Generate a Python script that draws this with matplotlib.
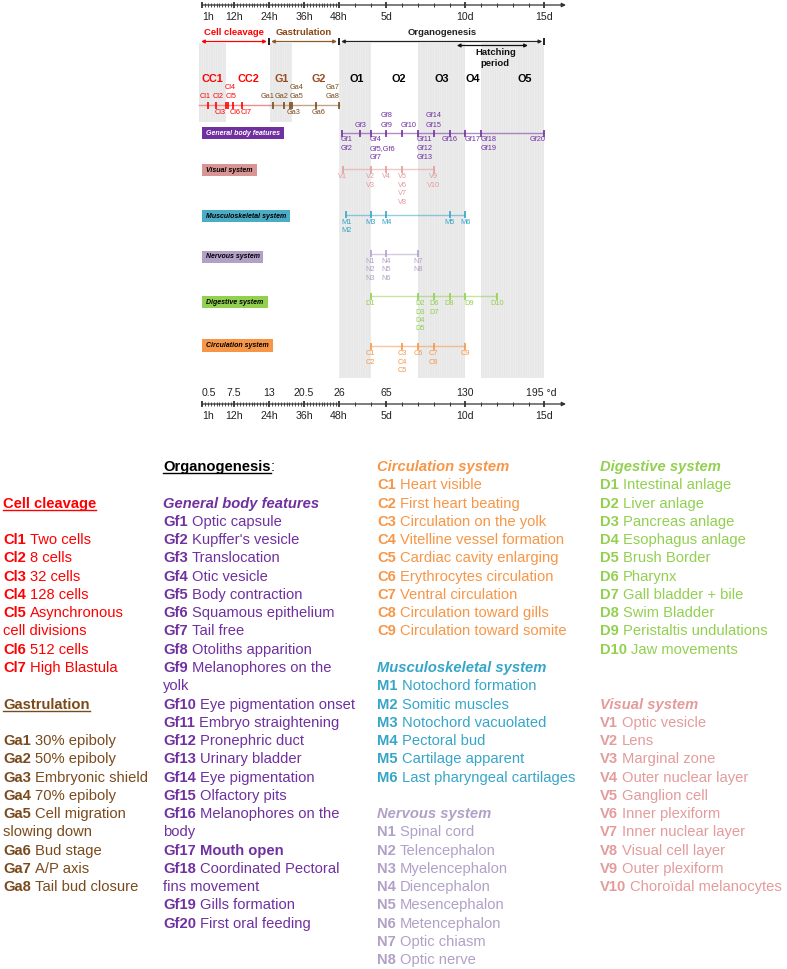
import numpy as np
import matplotlib
matplotlib.use('Agg')
import matplotlib.pyplot as plt
from matplotlib.patches import Rectangle

plt.rcParams['font.family'] = ['Liberation Sans', 'DejaVu Sans']
plt.rcParams['hatch.linewidth'] = 0.5

W, H = 787, 969

# ---------------- data ----------------
axis_hours = [1, 12, 24, 36, 48, 120, 240, 360]
axis_time_labels = ['1h', '12h', '24h', '36h', '48h', '5d', '10d', '15d']
axis_degree_labels = ['0.5', '7.5', '13', '20.5', '26', '65', '130', '195 °d']
hour_ticks = list(range(1, 49))
major_hours = [1, 12, 24, 36, 48]
day_ticks = list(range(3, 16))
major_days = [5, 10, 15]

period_names = ['Cell cleavage', 'Gastrulation', 'Organogenesis']
period_start_h = [0, 24, 48]
period_end_h = [24, 48, 360]
hatching_start_h, hatching_end_h = 227, 335

phase_names = ['CC1', 'CC2', 'G1', 'G2', 'O1', 'O2', 'O3', 'O4', 'O5']
phase_start_h = [0, 9.3, 24.5, 32, 48, 96, 168, 240, 264]
phase_end_h = [9.3, 24.5, 32, 48, 96, 168, 240, 264, 360]
phase_shaded = [1, 0, 1, 0, 1, 0, 1, 0, 1]

cl_codes = ['Cl1', 'Cl2', 'Cl3', 'Cl4', 'Cl5', 'Cl6', 'Cl7']
cl_hours = [3.2, 5.7, 9.3, 9.8, 9.8, 11.6, 14.8]
cl_desc = ['Two cells', '8 cells', '32 cells', '128 cells',
           'Asynchronous\ncell divisions', '512 cells', 'High Blastula']

ga_codes = ['Ga1', 'Ga2', 'Ga3', 'Ga4', 'Ga5', 'Ga6', 'Ga7', 'Ga8']
ga_hours = [25.3, 29.2, 31.2, 31.8, 31.8, 40, 48, 48]
ga_desc = ['30% epiboly', '50% epiboly', 'Embryonic shield', '70% epiboly',
           'Cell migration\nslowing down', 'Bud stage', 'A/P axis', 'Tail bud closure']

gf_codes = ['Gf1', 'Gf2', 'Gf3', 'Gf4', 'Gf5', 'Gf6', 'Gf7', 'Gf8', 'Gf9', 'Gf10',
            'Gf11', 'Gf12', 'Gf13', 'Gf14', 'Gf15', 'Gf16', 'Gf17', 'Gf18', 'Gf19', 'Gf20']
gf_days = [2.2, 2.2, 3.35, 4, 4, 4, 4, 5, 5, 6, 7, 7, 7, 8, 8, 9, 10, 11, 11, 15]
gf_desc = ['Optic capsule', "Kupffer's vesicle", 'Translocation', 'Otic vesicle',
           'Body contraction', 'Squamous epithelium', 'Tail free', 'Otoliths apparition',
           'Melanophores on the\nyolk', 'Eye pigmentation onset', 'Embryo straightening',
           'Pronephric duct', 'Urinary bladder', 'Eye pigmentation', 'Olfactory pits',
           'Melanophores on the\nbody', 'Mouth open', 'Coordinated Pectoral\nfins movement',
           'Gills formation', 'First oral feeding']

v_codes = ['V1', 'V2', 'V3', 'V4', 'V5', 'V6', 'V7', 'V8', 'V9', 'V10']
v_days = [2.25, 4, 4, 5, 6, 6, 6, 6, 8, 8]
v_desc = ['Optic vesicle', 'Lens', 'Marginal zone', 'Outer nuclear layer', 'Ganglion cell',
          'Inner plexiform', 'Inner nuclear layer', 'Visual cell layer', 'Outer plexiform',
          'Choroïdal melanocytes']

m_codes = ['M1', 'M2', 'M3', 'M4', 'M5', 'M6']
m_days = [2.45, 2.45, 4, 5, 9, 10]
m_desc = ['Notochord formation', 'Somitic muscles', 'Notochord vacuolated', 'Pectoral bud',
          'Cartilage apparent', 'Last pharyngeal cartilages']

n_codes = ['N1', 'N2', 'N3', 'N4', 'N5', 'N6', 'N7', 'N8']
n_days = [4, 4, 4, 5, 5, 5, 7, 7]
n_desc = ['Spinal cord', 'Telencephalon', 'Myelencephalon', 'Diencephalon', 'Mesencephalon',
          'Metencephalon', 'Optic chiasm', 'Optic nerve']

d_codes = ['D1', 'D2', 'D3', 'D4', 'D5', 'D6', 'D7', 'D8', 'D9', 'D10']
d_days = [4, 7, 7, 7, 7, 8, 8, 9, 10, 12]
d_desc = ['Intestinal anlage', 'Liver anlage', 'Pancreas anlage', 'Esophagus anlage',
          'Brush Border', 'Pharynx', 'Gall bladder + bile', 'Swim Bladder',
          'Peristaltis undulations', 'Jaw movements']

c_codes = ['C1', 'C2', 'C3', 'C4', 'C5', 'C6', 'C7', 'C8', 'C9']
c_days = [4, 4, 6, 6, 6, 7, 8, 8, 10]
c_desc = ['Heart visible', 'First heart beating', 'Circulation on the yolk',
          'Vitelline vessel formation', 'Cardiac cavity enlarging', 'Erythrocytes circulation',
          'Ventral circulation', 'Circulation toward gills', 'Circulation toward somite']

# ---------------- colours ----------------
RED = '#ff0000'
BROWN = '#7a4a1c'
GBROWN = '#984a1e'
PURPLE = '#7030a0'
ORANGE = '#f79646'
TEAL = '#36a6c8'
LAV = '#b1a0c7'
GREEN = '#92d050'
VIS = '#e49b9b'


# ---------------- time scale (hours -> horizontal position) ----------------
def fwd(t):
    t = np.asarray(t, dtype=float)
    return np.where(t <= 48, 199 + 2.917 * t, 339 + 0.6583 * (t - 48))


def inv(x):
    x = np.asarray(x, dtype=float)
    return np.where(x <= 339, (x - 199) / 2.917, 48 + (x - 339) / 0.6583)


fig = plt.figure(figsize=(W / 100, H / 100), dpi=100)
ax = fig.add_axes([0, 0, 1, 1])
ax.set_xscale('function', functions=(fwd, inv))
ax.axis('off')
ax2 = fig.add_axes([0, 0, 1, 1])
ax2.axis('off')
ax2.patch.set_visible(False)

PX = 0.72  # points per pixel

# ---------------- shaded phase bands ----------------
for s, e, sh in zip(phase_start_h, phase_end_h, phase_shaded):
    if sh:
        y1 = 122 if s < 48 else 378
        ax.add_patch(Rectangle((s, 43), e - s, y1 - 43, facecolor='#e7e7e7',
                               edgecolor='#efefef', hatch='|||||||', lw=0, zorder=0))

# phase labels
phase_dx = {'G2': 3, 'O1': 2, 'O2': 4, 'O5': 12}
for name, s, e in zip(phase_names, phase_start_h, phase_end_h):
    mid = float(inv((fwd(s) + fwd(e)) / 2))
    col = RED if name.startswith('CC') else (GBROWN if name.startswith('G') else 'black')
    ax.annotate(name, (mid, 79), xytext=(phase_dx.get(name, 0) * PX, 0), textcoords='offset points',
                ha='center', va='center', fontsize=7.8, fontweight='bold', color=col, zorder=5)


# ---------------- time axes ----------------
def time_axis(y, lab_y, labels):
    ax.annotate('', xy=(566 / W, y), xycoords=('axes fraction', 'data'),
                xytext=(1, y), textcoords='data',
                arrowprops=dict(arrowstyle='-|>', lw=0.9, color='#333333',
                                mutation_scale=6, shrinkA=0, shrinkB=0), zorder=3)
    minor_h = [h for h in hour_ticks if h not in major_hours]
    ax.vlines(minor_h, y - 1.8, y + 1.8, color='#333333', lw=0.6, zorder=3)
    ax.vlines(major_hours, y - 3, y + 3, color='#333333', lw=1.3, zorder=3)
    minor_d = [d * 24 for d in day_ticks if d not in major_days]
    ax.vlines(minor_d, y - 2.2, y + 2.2, color='#333333', lw=0.7, zorder=3)
    ax.vlines([d * 24 for d in major_days], y - 3, y + 3, color='#333333', lw=1.3, zorder=3)
    axis_labels(lab_y, labels)


def axis_labels(lab_y, labels):
    for h, lab in zip(axis_hours, labels):
        if h == 1:
            ax.text(h, lab_y, lab, ha='left', va='center', fontsize=7.6, color='#222222')
        elif lab.startswith('195'):
            ax.annotate(lab, (h, lab_y), xytext=(-18 * PX, 0), textcoords='offset points',
                        ha='left', va='center', fontsize=7.6, color='#222222')
        else:
            ax.text(h, lab_y, lab, ha='center', va='center', fontsize=7.6, color='#222222')


time_axis(5, 17, axis_time_labels)
time_axis(404, 416, axis_time_labels)
axis_labels(392.5, axis_degree_labels)

# ---------------- period arrows ----------------
period_cols = [RED, '#8b5a2b', '#222222']
period_text_cols = [RED, '#8b4513', '#222222']
for name, s, e, c, tc in zip(period_names, period_start_h, period_end_h, period_cols,
                             period_text_cols):
    ax.annotate('', xy=(e, 41.5), xytext=(s, 41.5),
                arrowprops=dict(arrowstyle='<|-|>', lw=0.9, color=c, mutation_scale=5,
                                shrinkA=1.5, shrinkB=1.5), zorder=4)
    mid = float(inv((fwd(s) + fwd(e)) / 2))
    ax.text(mid, 32, name, ha='center', va='center', fontsize=6.8, fontweight='bold',
            color=tc, zorder=5)
ax.vlines([24, 48, 360], 38, 45, color='#111111', lw=1.3, zorder=5)
ax.annotate('', xy=(hatching_end_h, 45.5), xytext=(hatching_start_h, 45.5),
            arrowprops=dict(arrowstyle='<|-|>', lw=0.9, color='#111111', mutation_scale=5,
                            shrinkA=0, shrinkB=0), zorder=4)
hmid = float(inv((fwd(hatching_start_h) + fwd(hatching_end_h)) / 2))
ax.annotate('Hatching\nperiod', (hmid, 58), xytext=(3 * PX, 0), textcoords='offset points',
            ha='center', va='center', fontsize=6.8, fontweight='bold', linespacing=1.25,
            color='#111111', zorder=5)


# ---------------- event rows ----------------
def draw_events(codes, hours, y, color, above=(), ha_map=None, dx_map=None, merge=(),
                first=7.8, step=8.5, fs=5.3):
    ha_map = ha_map or {}
    dx_map = dx_map or {}
    hours = np.asarray(hours, float)
    ax.vlines(sorted(set(hours)), y - 3.5, y + 3.5, color=color, lw=1.2, zorder=4)
    groups = {}
    for c, t in zip(codes, hours):
        groups.setdefault(float(t), []).append(c)
    for t, cs in groups.items():
        up = [c for c in cs if c in above]
        dn = [c for c in cs if c not in above]
        if merge and all(m in dn for m in merge):
            i0 = dn.index(merge[0])
            dn = dn[:i0] + [','.join(merge)] + [c for c in dn[i0:] if c not in merge]
        key = cs[0]
        ha = ha_map.get(key, 'center')
        dx = dx_map.get(key, 0) * PX
        for i, c in enumerate(dn):
            ax.annotate(c, (t, y + first + step * i), xytext=(dx, 0), textcoords='offset points',
                        ha=ha, va='center', fontsize=fs, color=color, zorder=5)
        for i, c in enumerate(reversed(up)):
            ax.annotate(c, (t, y - first - 1 - step * 1.05 * i), xytext=(dx, 0),
                        textcoords='offset points',
                        ha=ha, va='center', fontsize=fs, color=color, zorder=5)


def row_line(hours, y, color):
    ax.plot([min(hours), max(hours)], [y, y], color=color, lw=1.0, alpha=0.55,
            solid_capstyle='butt', zorder=3)


# cleavage / gastrulation row
CY = 105
ax.plot([0, 24], [CY, CY], color='#f28c8c', lw=1.0, zorder=3)
ax.plot([24, 48], [CY, CY], color='#c2a488', lw=1.0, zorder=3)
draw_events(cl_codes, cl_hours, CY, RED, above=('Cl1', 'Cl2', 'Cl4', 'Cl5'),
            dx_map={'Cl1': -3, 'Cl2': 2, 'Cl3': -6, 'Cl4': 3, 'Cl6': 2.5, 'Cl7': 4.4},
            first=7.3, step=9.0)
draw_events(ga_codes, ga_hours, CY, BROWN, above=('Ga1', 'Ga2', 'Ga4', 'Ga5', 'Ga7', 'Ga8'),
            dx_map={'Ga1': -5, 'Ga2': -2.6, 'Ga3': 4, 'Ga4': 5, 'Ga6': 3.3, 'Ga7': -6},
            first=7.3, step=9.0)

# organogenesis rows
rows = [
    (gf_codes, gf_days, 133, PURPLE),
    (v_codes, v_days, 169, VIS),
    (m_codes, m_days, 214.5, TEAL),
    (n_codes, n_days, 253.5, LAV),
    (d_codes, d_days, 296, GREEN),
    (c_codes, c_days, 346, ORANGE),
]
for codes, days, y, col in rows:
    hrs = [d * 24 for d in days]
    row_line(hrs, y, col)
    if codes is gf_codes:
        draw_events(codes, hrs, y, col, above=('Gf3', 'Gf8', 'Gf9', 'Gf10', 'Gf14', 'Gf15'),
                    ha_map={'Gf1': 'left', 'Gf4': 'left', 'Gf10': 'left', 'Gf11': 'left',
                            'Gf17': 'left', 'Gf18': 'left', 'Gf20': 'right'},
                    dx_map={'Gf1': -2, 'Gf4': -1, 'Gf10': -1.5, 'Gf11': -1, 'Gf17': -1,
                            'Gf18': -1, 'Gf20': 1},
                    merge=('Gf5', 'Gf6'), first=6.8, step=8.8)
    else:
        draw_events(codes, hrs, y, col, ha_map={'D9': 'left'}, dx_map={'D9': -1, 'D2': 2},
                    first=7.8, step=8.4)

# row name boxes (pixel layout)
boxes = [
    ('General body features', 133, 82, PURPLE, 'white'),
    ('Visual system', 170, 55, '#d99594', 'black'),
    ('Musculoskeletal system', 216, 88, '#4bacc6', 'black'),
    ('Nervous system', 257, 61, '#b2a1c7', 'black'),
    ('Digestive system', 302, 66, GREEN, 'black'),
    ('Circulation system', 345.5, 71, ORANGE, 'black'),
]
for name, yc, w, fc, tc in boxes:
    ax2.add_patch(Rectangle((202, yc - 6.3), w, 12.6, facecolor=fc, edgecolor='none', zorder=4))
    ax2.text(202 + w / 2, yc, name, ha='center', va='center', fontsize=5.0,
             fontweight='bold', fontstyle='italic', color=tc, zorder=5)

# ---------------- legend text ----------------
FS = 10.6
Y0, DY = 466, 18.27
renderer = fig.canvas.get_renderer()
ax2.set_xlim(0, W)
ax2.set_ylim(H, 0)


def base(k):
    return Y0 + DY * k + 5.0


def heading(x, k, text, color, underline=False, italic=False, suffix=''):
    t = ax2.text(x, base(k), text, fontsize=FS, fontweight='bold',
                 fontstyle='italic' if italic else 'normal', color=color, va='baseline', ha='left')
    if underline:
        bb = t.get_window_extent(renderer)
        inv_t = ax2.transData.inverted()
        x0 = inv_t.transform((bb.x0, bb.y0))[0]
        x1 = inv_t.transform((bb.x1, bb.y0))[0]
        ax2.plot([x0, x1], [base(k) + 2.2, base(k) + 2.2], color=color, lw=1.0)
    if suffix:
        ax2.annotate(suffix, xy=(1, 0), xycoords=t, va='bottom', ha='left',
                     fontsize=FS, color=color)


def entries(x, k0, codes, descs, color, bold_all=()):
    k = k0
    for code, desc in zip(codes, descs):
        lines = desc.split('\n')
        t = ax2.text(x, base(k), code, fontsize=FS, fontweight='bold', color=color,
                     va='baseline', ha='left')
        ax2.annotate(lines[0], xy=(1, 0), xycoords=t, xytext=(2.9, 0),
                     textcoords='offset points', va='bottom', ha='left', fontsize=FS,
                     color=color, fontweight='bold' if code in bold_all else 'normal')
        k += 1
        for ln in lines[1:]:
            ax2.text(x, base(k), ln, fontsize=FS, color=color, va='baseline', ha='left')
            k += 1
    return k


# column 1
heading(3, 2, 'Cell cleavage', RED, underline=True)
entries(3, 4, cl_codes, cl_desc, RED)
heading(3, 13, 'Gastrulation', BROWN, underline=True)
entries(3, 15, ga_codes, ga_desc, BROWN)

# column 2
heading(163, 0, 'Organogenesis', 'black', underline=True, suffix=':')
heading(163, 2, 'General body features', PURPLE, italic=True)
entries(163, 3, gf_codes, gf_desc, PURPLE, bold_all=('Gf17',))

# column 3
heading(377, 0, 'Circulation system', ORANGE, italic=True)
entries(377, 1, c_codes, c_desc, ORANGE)
heading(377, 11, 'Musculoskeletal system', TEAL, italic=True)
entries(377, 12, m_codes, m_desc, TEAL)
heading(377, 19, 'Nervous system', LAV, italic=True)
entries(377, 20, n_codes, n_desc, LAV)

# column 4
heading(600, 0, 'Digestive system', GREEN, italic=True)
entries(600, 1, d_codes, d_desc, GREEN)
heading(600, 13, 'Visual system', VIS, italic=True)
entries(600, 14, v_codes, v_desc, VIS)

ax.set_xlim(float(inv(0)), float(inv(W)))
ax.set_ylim(H, 0)
ax2.set_xlim(0, W)
ax2.set_ylim(H, 0)

fig.savefig('out.png', dpi=100, facecolor='white')
